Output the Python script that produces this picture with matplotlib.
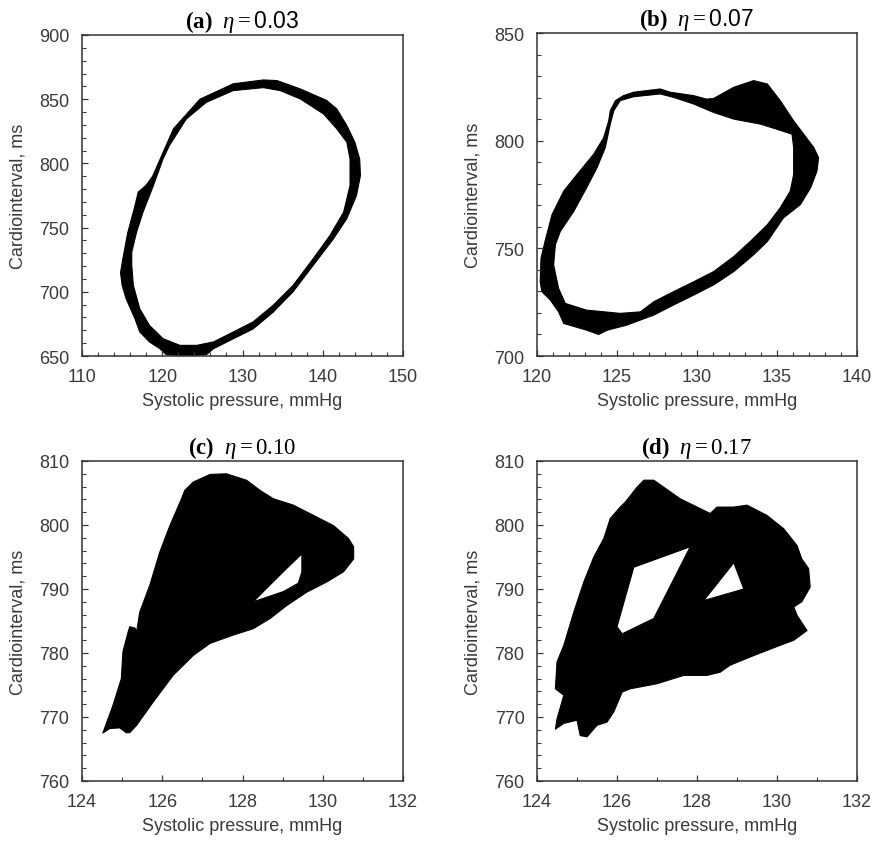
import numpy as np
import matplotlib
matplotlib.use("Agg")
import matplotlib.pyplot as plt
from matplotlib.path import Path
from matplotlib.patches import PathPatch
from matplotlib.ticker import MultipleLocator

plt.rcParams['font.family'] = ['Liberation Sans', 'DejaVu Sans']
plt.rcParams['mathtext.fontset'] = 'custom'
plt.rcParams['mathtext.rm'] = 'Liberation Serif'
plt.rcParams['mathtext.it'] = 'Liberation Serif:italic'
plt.rcParams['mathtext.bf'] = 'Liberation Serif:bold'
plt.rcParams['mathtext.sf'] = 'Liberation Sans'

# (a) eta = 0.03 : outer edge of the attractor band and the empty middle
a_outer_x = [132.6, 134.3, 137.2, 140.5, 141.75, 143.0, 144.0, 144.6, 144.7, 144.2, 143.0, 141.3,
             138.8, 136.3, 133.8, 131.3, 128.4, 126.4, 125.5, 123.0, 120.5, 119.7, 118.4, 117.2,
             116.6, 115.5, 115.0, 114.8, 115.1, 115.7, 116.6, 117.0, 118.0, 118.8, 121.4, 124.7, 128.85]
a_outer_y = [865, 864.5, 858, 849, 842.4, 829.5, 816.5, 803.5, 790.6, 775, 757, 741,
             720.5, 700, 684, 671, 662, 655.7, 651, 650, 651, 655.7, 661, 668.7,
             679, 694.6, 705, 715, 726, 746, 767, 777.6, 783, 790, 827, 850, 862]
a_hole_x = [132.6, 134.7, 137.2, 140.1, 141.75, 143.0, 143.4, 143.4, 142.6, 140.9, 138.8, 136.3,
            133.8, 131.3, 128.85, 126.4, 124.3, 122.2, 120.1, 118.4, 117.2, 116.4, 116.2, 116.2,
            116.8, 117.6, 118.9, 120.1, 120.9, 123.0, 125.5, 128.85]
a_hole_y = [859, 856.7, 850.2, 838.5, 826.9, 816.5, 803.5, 782.8, 762, 743.9, 725.7, 705,
            689.4, 676.5, 668.7, 661, 658.3, 658.3, 663.5, 673.9, 686.8, 705, 720.5, 731,
            746.5, 762, 782.8, 803.5, 814, 834.6, 847.6, 856.7]

# (b) eta = 0.07
b_outer_x = [124.58, 124.9, 125.4, 126.04, 127.7, 128.33, 129.8, 130.6, 131.04, 132.3, 133.54, 134.4,
             135.2, 136.04, 136.67, 137.3, 137.6, 137.5, 137.1, 136.46, 135.4, 134.4, 133.54, 132.3,
             131.04, 129.8, 128.54, 127.3, 125.6, 124.4, 123.85, 123.1, 121.67, 121.35, 120.83, 120.3,
             120.2, 120.25, 120.5, 120.94, 121.67, 122.5, 123.54, 124.17, 124.48]
b_outer_y = [813.9, 818.6, 820.9, 822.5, 824, 822.5, 820.9, 819.3, 819.6, 824.8, 827.9, 826.3,
             818.6, 809.2, 803.0, 796.8, 792.1, 785.9, 778.1, 770.3, 764.1, 753.2, 747, 739.2,
             733, 728.3, 723.7, 719, 714.3, 712, 710, 712, 715.1, 720.5, 726, 729.9,
             734.5, 745.4, 753.2, 765.7, 776.6, 784.3, 793.7, 801.4, 809.2]
b_hole_x = [124.8, 125.2, 126.04, 127.7, 128.54, 129.8, 131.04, 132.3, 133.96, 135.0, 135.94, 136.04,
            136.04, 135.83, 135.2, 134.4, 133.33, 132.3, 131.04, 129.8, 128.54, 127.3, 126.46, 125.2,
            123.1, 121.77, 121.35, 121.04, 121.15, 121.46, 122.3, 123.1, 123.75, 124.27, 124.58]
b_hole_y = [813.9, 818.6, 820.4, 821.7, 820.1, 817, 813.1, 810, 807.7, 805.3, 803, 796.8,
            784.3, 776.6, 768.8, 761, 753.2, 746.2, 739.2, 734.5, 729.9, 725.2, 720.5, 719.8,
            721.3, 724.4, 731.4, 742.3, 751.7, 757.9, 767.2, 778.1, 787.4, 796.8, 807.7]

# (c) eta = 0.10
c_outer_x = [124.52, 124.69, 124.94, 125.1, 125.19, 125.36, 125.77, 126.27, 126.77, 127.19, 127.77, 128.27,
             128.69, 129.1, 129.6, 130.1, 130.52, 130.77, 130.77, 130.64, 130.27, 129.77, 129.27, 128.77,
             128.44, 128.1, 127.6, 127.19, 126.77, 126.56, 126.48, 126.19, 125.94, 125.69, 125.44, 125.36,
             125.32, 125.19, 125.15, 125.02, 124.98, 124.77]
c_outer_y = [767.5, 768.2, 768.3, 767.55, 767.55, 768.7, 772.3, 776.5, 779.6, 781.5, 782.8, 783.8,
             785.4, 787.4, 789.5, 791.1, 792.7, 794.7, 796.6, 797.9, 799.9, 801.5, 803.1, 804.1,
             805.4, 807.0, 808.0, 807.9, 806.7, 805.4, 804.1, 799.9, 795.8, 790.6, 786.4, 783.3,
             783.9, 784.1, 783.3, 780.2, 776.0, 771.8]
c_hole_x = [128.27, 129.02, 129.39, 129.48, 129.48, 129.1, 128.6]
c_hole_y = [788.0, 789.6, 790.9, 792.7, 795.5, 793.2, 790.1]

# (d) eta = 0.17
d_outer_x = [124.46, 124.67, 125.0, 125.08, 125.25, 125.5, 125.75, 125.92, 126.13, 126.33, 127.0, 127.67,
             128.25, 128.58, 128.83, 129.42, 130.08, 130.42, 130.75, 130.5, 130.42, 130.62, 130.83, 130.79,
             130.62, 130.5, 130.17, 129.75, 129.25, 128.92, 128.5, 128.33, 127.58, 126.92, 126.67, 126.5,
             126.21, 126.08, 125.83, 125.67, 125.42, 125.17, 124.92, 124.67, 124.5, 124.46, 124.67, 124.5]
d_outer_y = [768.1, 769.0, 769.5, 767.1, 766.9, 768.7, 769.2, 770.8, 773.9, 774.4, 775.2, 776.5,
             776.5, 777.0, 778.1, 779.6, 781.2, 782.0, 783.5, 785.9, 787.2, 788.0, 790.3, 793.2,
             794.7, 796.8, 799.4, 801.5, 803.1, 802.8, 802.8, 801.8, 804.1, 807.0, 807.0, 805.9,
             803.6, 802.8, 801.0, 797.9, 795.0, 791.1, 786.4, 781.2, 778.6, 774.4, 773.4, 769.7]
d_hole1_x = [126.42, 127.83, 126.92, 126.13, 126.0]
d_hole1_y = [793.4, 796.6, 785.4, 783.0, 784.1]
d_hole2_x = [128.17, 128.92, 129.17]
d_hole2_y = [788.2, 794.1, 790.0]

titles = [r"$\mathbf{(a)}\ \ \eta = \mathsf{0.03}$", r"$\mathbf{(b)}\ \ \eta = \mathsf{0.07}$",
          r"$\mathbf{(c)}\ \ \eta = 0.10$", r"$\mathbf{(d)}\ \ \eta = 0.17$"]
xlims = [(110, 150), (120, 140), (124, 132), (124, 132)]
ylims = [(650, 900), (700, 850), (760, 810), (760, 810)]
xsteps = [(10, 2), (5, 1), (2, 1), (2, 1)]
ysteps = [(50, 10), (50, 10), (10, 2), (10, 2)]


def signed_area(x, y):
    x = np.asarray(x)
    y = np.asarray(y)
    return 0.5 * np.sum(x * np.roll(y, -1) - np.roll(x, -1) * y)


def ring(x, y):
    v = np.column_stack([x, y])
    v = np.vstack([v, v[:1]])
    codes = [Path.MOVETO] + [Path.LINETO] * (len(v) - 2) + [Path.CLOSEPOLY]
    return Path(v, codes)


def draw_band(ax, ox, oy, holes):
    # outer ring plus holes wound the other way, so the middle stays empty
    sgn = np.sign(signed_area(ox, oy))
    paths = [ring(ox, oy)]
    for hx, hy in holes:
        if np.sign(signed_area(hx, hy)) == sgn:
            hx, hy = hx[::-1], hy[::-1]
        paths.append(ring(hx, hy))
    p = Path.make_compound_path(*paths)
    ax.add_patch(PathPatch(p, facecolor='black', edgecolor='black', lw=0.8, joinstyle='round'))


fig = plt.figure(figsize=(8.77, 8.45), dpi=100)
W, H = 877, 845
boxes = [(82, 36, 403, 357), (537, 34, 857, 357), (82, 462, 403, 782), (537, 462, 857, 782)]
shapes = [
    (a_outer_x, a_outer_y, [(a_hole_x, a_hole_y)]),
    (b_outer_x, b_outer_y, [(b_hole_x, b_hole_y)]),
    (c_outer_x, c_outer_y, [(c_hole_x, c_hole_y)]),
    (d_outer_x, d_outer_y, [(d_hole1_x, d_hole1_y), (d_hole2_x, d_hole2_y)]),
]

txt = '#3a3a3a'
for i, (l, t, r, b) in enumerate(boxes):
    ax = fig.add_axes([l / W, 1 - b / H, (r - l) / W, (b - t) / H])
    ox, oy, holes = shapes[i]
    draw_band(ax, ox, oy, holes)
    ax.set_xlim(*xlims[i])
    ax.set_ylim(*ylims[i])
    ax.xaxis.set_major_locator(MultipleLocator(xsteps[i][0]))
    ax.xaxis.set_minor_locator(MultipleLocator(xsteps[i][1]))
    ax.yaxis.set_major_locator(MultipleLocator(ysteps[i][0]))
    ax.yaxis.set_minor_locator(MultipleLocator(ysteps[i][1]))
    ax.tick_params(which='both', direction='in', top=False, right=False,
                   colors=txt, labelsize=13, pad=9)
    ax.tick_params(which='major', length=4.5, width=0.9)
    ax.tick_params(which='minor', length=3, width=0.8)
    for s in ax.spines.values():
        s.set_color('#333333')
        s.set_linewidth(1.1)
    ax.set_xlabel('Systolic pressure, mmHg', fontsize=13, color=txt, labelpad=5)
    ax.set_ylabel('Cardiointerval, ms', fontsize=13, color=txt, labelpad=9)
    ax.set_title(titles[i], fontsize=16.5, pad=6)

fig.savefig('out.png', dpi=100)
